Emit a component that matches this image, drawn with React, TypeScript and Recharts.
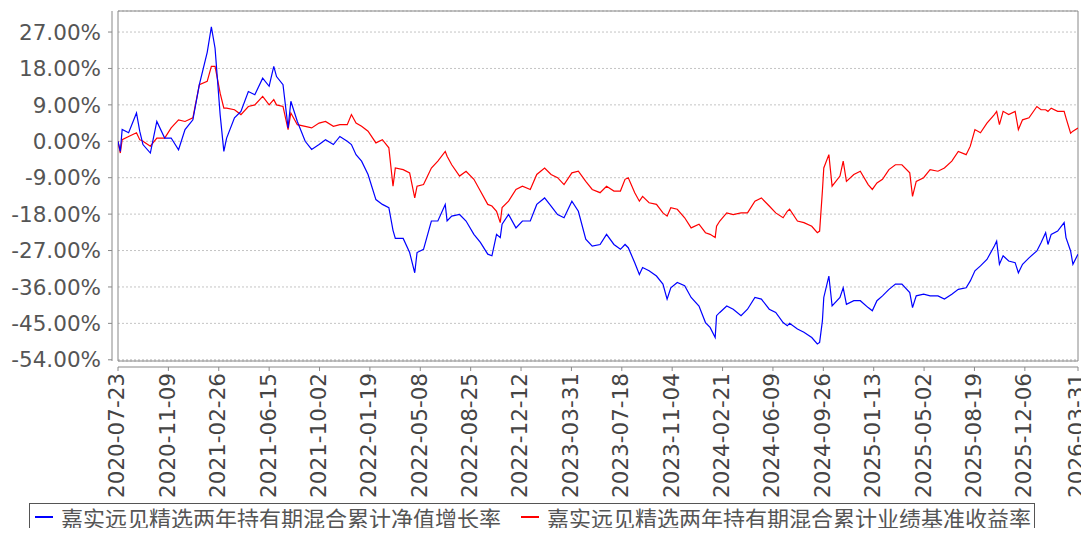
import React from 'react';
import { LineChart, Line, XAxis, YAxis, CartesianGrid, ReferenceArea, Legend } from 'recharts';

const dates = [
  '2020-07-23','2020-07-28','2020-08-01','2020-08-15','2020-09-01','2020-09-08','2020-09-15','2020-10-01','2020-10-15','2020-11-01',
  '2020-11-15','2020-12-01','2020-12-15','2021-01-01','2021-01-15','2021-02-01','2021-02-10','2021-02-18','2021-03-01','2021-03-09',
  '2021-03-15','2021-04-01','2021-04-15','2021-05-01','2021-05-15','2021-06-01','2021-06-15','2021-06-25','2021-07-01','2021-07-15',
  '2021-07-26','2021-08-01','2021-08-15','2021-09-01','2021-09-15','2021-10-01','2021-10-15','2021-11-01','2021-11-15','2021-12-01',
  '2021-12-10','2021-12-20','2022-01-01','2022-01-15','2022-02-01','2022-02-15','2022-03-01','2022-03-10','2022-03-15','2022-04-01',
  '2022-04-15','2022-04-26','2022-05-01','2022-05-15','2022-06-01','2022-06-15','2022-07-01','2022-07-05','2022-07-15','2022-08-01',
  '2022-08-15','2022-09-01','2022-09-15','2022-10-01','2022-10-10','2022-10-20','2022-10-28','2022-11-01','2022-11-15','2022-12-01',
  '2022-12-15','2023-01-01','2023-01-15','2023-02-01','2023-02-15','2023-03-01','2023-03-15','2023-04-01','2023-04-15','2023-05-01',
  '2023-05-15','2023-06-01','2023-06-15','2023-07-01','2023-07-15','2023-07-25','2023-08-01','2023-08-15','2023-08-25','2023-09-01',
  '2023-09-15','2023-10-01','2023-10-15','2023-10-24','2023-11-01','2023-11-15','2023-12-01','2023-12-15','2024-01-01','2024-01-15',
  '2024-01-25','2024-02-05','2024-02-08','2024-02-15','2024-03-01','2024-03-15','2024-04-01','2024-04-15','2024-05-01','2024-05-15',
  '2024-06-01','2024-06-15','2024-07-01','2024-07-10','2024-07-15','2024-08-01','2024-08-15','2024-09-01','2024-09-13','2024-09-18',
  '2024-09-24','2024-09-27','2024-10-08','2024-10-15','2024-11-01','2024-11-08','2024-11-15','2024-12-01','2024-12-15','2025-01-01',
  '2025-01-10','2025-01-20','2025-02-01','2025-02-15','2025-03-01','2025-03-15','2025-04-01','2025-04-07','2025-04-15','2025-05-01',
  '2025-05-15','2025-06-01','2025-06-15','2025-07-01','2025-07-15','2025-08-01','2025-08-10','2025-08-20','2025-09-01','2025-09-15',
  '2025-10-01','2025-10-06','2025-10-12','2025-10-20','2025-11-01','2025-11-15','2025-11-22','2025-12-01','2025-12-15','2026-01-01',
  '2026-01-10','2026-01-20','2026-01-25','2026-02-01','2026-02-15','2026-03-01','2026-03-05','2026-03-15','2026-03-20','2026-03-31'
];

// 嘉实远见精选两年持有期混合累计净值增长率 (%)
const navGrowth = [
  0, -2.5, 2.9, 2.1, 7.0, 2.5, -0.8, -2.9, 4.9, 0.8,
  0.8, -2.1, 2.9, 5.3, 14, 22, 28.3, 23, 6.6, -2.5,
  0.8, 5.8, 7.4, 12.3, 11.5, 15.6, 13.6, 18.5, 16, 14,
  3.3, 9.9, 4.9, 0, -2, -0.8, 0.4, -0.8, 1.2, 0,
  -0.8, -3.3, -4.9, -8.2, -14.4, -15.6, -16.4, -22, -24, -24,
  -27.5, -32.5, -27.5, -26.7, -19.7, -19.7, -15.6, -19.7, -18.5, -18.1,
  -19.7, -23, -25, -27.9, -28.3, -23, -23.8, -20.5, -18.1, -21.4,
  -19.7, -19.7, -15.6, -14, -16, -18.1, -18.9, -14.8, -17.3, -24.2,
  -25.9, -25.5, -23, -25.5, -26.7, -25.5, -26.3, -30, -32.9, -31.2,
  -32, -33.3, -35.3, -39, -36.2, -34.9, -35.7, -38.6, -40.7, -44.8,
  -46, -48.5, -43.1, -42.3, -40.7, -41.5, -43.1, -41.5, -38.6, -39,
  -41.5, -42.3, -44.8, -45.6, -45, -46.4, -47.2, -48.5, -50.1, -49.7,
  -44.4, -38.6, -33.3, -40.7, -38.6, -36.2, -40.3, -39.4, -39.4, -41.1,
  -41.9, -39.4, -38.2, -36.6, -35.3, -35.3, -37.4, -41.1, -38.2, -37.8,
  -38.2, -38.2, -39, -37.8, -36.6, -36.2, -34.5, -32, -30.8, -29.2,
  -25.9, -24.7, -30.4, -28.3, -29.6, -30, -32.5, -30.4, -28.8, -27.1,
  -25.1, -22.6, -25.5, -23, -22.2, -20.1, -23.8, -27.1, -30.4, -27.9
];

// 嘉实远见精选两年持有期混合累计业绩基准收益率 (%)
const benchReturn = [
  0, -2.9, 0.4, 1.2, 2.1, 0.4, 0, -1.2, 0.8, 0.8,
  3.3, 5.3, 4.9, 5.8, 14, 14.8, 18.5, 18.5, 11.9, 8.2,
  8.2, 7.8, 6.6, 8.6, 9, 11.1, 9, 10.3, 9, 8.6,
  2.9, 7, 4.1, 3.7, 3.3, 4.5, 4.9, 3.7, 4.1, 4.1,
  6.6, 4.5, 3.7, 2.5, -0.4, 0.4, -1.6, -11.1, -6.6, -7,
  -7.8, -14, -11.1, -10.7, -6.6, -4.9, -2.5, -3.7, -5.8, -8.6,
  -7.4, -9.4, -12.3, -15.6, -16, -17.3, -20.1, -16.4, -14.8, -11.9,
  -11.1, -11.9, -8.2, -6.6, -8.2, -9, -10.7, -7.8, -7.4, -9.9,
  -11.9, -12.7, -11.1, -12.3, -12.3, -9.4, -9, -12.7, -14.8, -13.6,
  -15.2, -15.6, -17.7, -18.5, -16.4, -16.8, -18.9, -21.4, -20.5, -22.6,
  -23, -23.8, -21, -19.7, -17.7, -18.1, -17.7, -17.7, -14.8, -14,
  -16, -17.7, -18.9, -17.3, -16.8, -19.7, -20.1, -21, -22.6, -22.2,
  -12.3, -6.6, -3.3, -11.1, -8.6, -4.9, -9.9, -8.2, -7.4, -10.7,
  -11.9, -10.3, -9.4, -7, -5.8, -5.8, -7.8, -13.6, -9.9, -9,
  -7, -7.4, -6.6, -4.9, -2.5, -3.3, -1.2, 2.9, 2.1, 4.5,
  6.6, 7.4, 4.1, 7.4, 6.6, 7.4, 2.9, 5.3, 5.8, 8.6,
  7.8, 7.8, 7.4, 8.2, 7.4, 7.4, 5.8, 2, 2.5, 3.3
];

const xTickLabels = [
  '2020-07-23','2020-11-09','2021-02-26','2021-06-15','2021-10-02','2022-01-19','2022-05-08','2022-08-25','2022-12-12','2023-03-31',
  '2023-07-18','2023-11-04','2024-02-21','2024-06-09','2024-09-26','2025-01-13','2025-05-02','2025-08-19','2025-12-06','2026-03-31'
];
const yTicks = [27, 18, 9, 0, -9, -18, -27, -36, -45, -54];

const seriesNames = ['嘉实远见精选两年持有期混合累计净值增长率', '嘉实远见精选两年持有期混合累计业绩基准收益率'];
const seriesColors = ['#0000ff', '#ff0000'];

const data = dates.map((d, i) => ({ t: Date.parse(d), nav: navGrowth[i], bench: benchReturn[i] }));
const xTickValues = xTickLabels.map((d) => Date.parse(d));
const xDomain = [Date.parse(dates[0]), Date.parse(dates[dates.length - 1])];
const yDomain = [-54.3, 32.2];

const AXIS_FONT = 'DejaVu Sans, sans-serif';

const XTick = (props: any) => {
  const { x, y, payload } = props;
  const idx = xTickValues.indexOf(payload.value);
  const label = idx >= 0 ? xTickLabels[idx] : '';
  return (
    <text
      x={x}
      y={y}
      transform={`rotate(-90 ${x} ${y})`}
      textAnchor="end"
      dy="0.3em"
      fill="#444"
      fontSize={21.5}
      fontFamily={AXIS_FONT}
    >
      {label}
    </text>
  );
};

const LegendBox = () => (
  <div
    style={{
      boxSizing: 'border-box',
      width: 1006,
      height: 33,
      borderTop: '1px solid #555',
      borderLeft: '1px solid #555',
      borderRight: '1px solid #555',
      display: 'flex',
      alignItems: 'flex-start',
      fontFamily: '"Noto Sans CJK SC", sans-serif',
      fontSize: 22,
      color: '#555',
      whiteSpace: 'nowrap',
    }}
  >
    {seriesNames.map((name, i) => (
      <div key={name} style={{ display: 'flex', alignItems: 'center', height: 26, marginLeft: i === 0 ? 5 : 20 }}>
        <span style={{ display: 'inline-block', width: 18, height: 1.5, background: seriesColors[i], marginRight: 8 }} />
        <span style={{ lineHeight: '26px' }}>{name}</span>
      </div>
    ))}
  </div>
);

export default function App() {
  return (
    <LineChart width={1081} height={520} data={data} margin={{ top: 3, right: 11, left: 0, bottom: 0 }}>
      <CartesianGrid horizontal vertical={false} stroke="#c4c4c4" strokeDasharray="2 2" />
      <XAxis
        type="number"
        dataKey="t"
        domain={xDomain}
        ticks={xTickValues}
        interval={0}
        allowDataOverflow
        height={134}
        tickSize={4}
        tickMargin={8}
        axisLine={{ stroke: '#888', transform: 'translate(0,6)' }}
        tickLine={{ stroke: '#888', transform: 'translate(0,6)' }}
        tick={<XTick />}
      />
      <YAxis
        type="number"
        domain={yDomain}
        ticks={yTicks}
        interval={0}
        allowDataOverflow
        width={110}
        tickSize={4}
        tickMargin={13}
        axisLine={{ stroke: '#888', transform: 'translate(-6,0)' }}
        tickLine={{ stroke: '#888', transform: 'translate(-6,0)' }}
        tickFormatter={(v: number) => v.toFixed(2) + '%'}
        tick={{ fill: '#555', fontSize: 21.5, fontFamily: AXIS_FONT }}
      />
      <ReferenceArea x1={xDomain[0]} x2={xDomain[1]} y1={yDomain[0]} y2={yDomain[1]} fill="none" stroke="#888" strokeWidth={1} />
      <Line type="linear" dataKey="bench" stroke={seriesColors[1]} strokeWidth={1.2} dot={false} activeDot={false} isAnimationActive={false} />
      <Line type="linear" dataKey="nav" stroke={seriesColors[0]} strokeWidth={1.2} dot={false} activeDot={false} isAnimationActive={false} />
      <Legend
        verticalAlign="bottom"
        content={<LegendBox />}
        wrapperStyle={{ left: 21, top: 495, width: 1006, height: 33 }}
      />
    </LineChart>
  );
}
